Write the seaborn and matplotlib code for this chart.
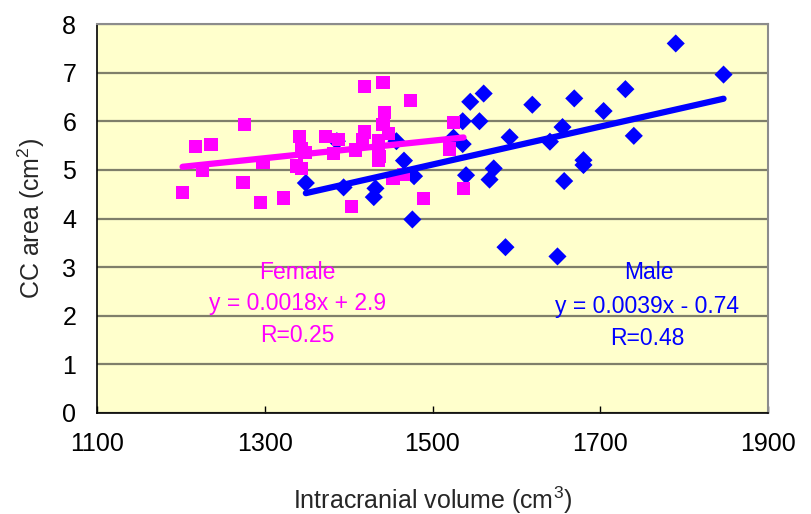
import numpy as np
import pandas as pd
import matplotlib
matplotlib.use("Agg")
import matplotlib.pyplot as plt
import seaborn as sns

# ---- data ----
female_icv = [1202, 1217, 1226, 1236, 1274, 1276, 1295, 1298, 1322, 1338,
              1344, 1341, 1344, 1348, 1372, 1382, 1388, 1403, 1408, 1417,
              1419, 1419, 1436, 1436, 1437, 1436, 1441, 1441, 1443, 1448,
              1453, 1465, 1474, 1489, 1520, 1525, 1537]
female_cc = [4.54, 5.48, 4.99, 5.53, 4.74, 5.94, 4.33, 5.15, 4.42, 5.08,
             5.03, 5.69, 5.43, 5.36, 5.69, 5.33, 5.63, 4.25, 5.41, 5.63,
             5.78, 6.71, 5.60, 5.43, 5.28, 5.19, 5.93, 6.79, 6.18, 5.75,
             4.82, 4.90, 6.42, 4.41, 5.43, 5.97, 4.62]

male_icv = [1349, 1386, 1394, 1430, 1432, 1457, 1466, 1476, 1478, 1525,
            1536, 1536, 1540, 1545, 1556, 1561, 1568, 1573, 1587, 1592,
            1619, 1640, 1649, 1655, 1657, 1669, 1680, 1680, 1704, 1730,
            1740, 1790, 1847]
male_cc = [4.73, 5.59, 4.64, 4.44, 4.62, 5.59, 5.19, 3.98, 4.87, 5.66,
           6.00, 5.53, 4.89, 6.40, 6.00, 6.57, 4.80, 5.03, 3.41, 5.67,
           6.34, 5.58, 3.22, 5.88, 4.77, 6.47, 5.20, 5.10, 6.21, 6.66,
           5.70, 7.60, 6.96]

# regression coefficients as printed on the chart
female_fit = (0.0018, 2.9)
male_fit = (0.0039, -0.74)

x_ticks = [1100, 1300, 1500, 1700, 1900]
y_ticks = [0, 1, 2, 3, 4, 5, 6, 7, 8]

MAGENTA = "#FF00FF"
BLUE = "#0000FF"

sns.set_theme(style="white")
plt.rcParams["font.family"] = ["Liberation Sans", "DejaVu Sans"]
plt.rcParams["mathtext.fontset"] = "custom"
plt.rcParams["mathtext.rm"] = "Liberation Sans"

fig = plt.figure(figsize=(8.11, 5.14), dpi=100)
ax = fig.add_axes([97 / 811, 1 - 413 / 514, (768 - 97) / 811, (413 - 24) / 514])
ax.set_facecolor("#FFFFCC")

fem = pd.DataFrame({"icv": female_icv, "cc": female_cc})
mal = pd.DataFrame({"icv": male_icv, "cc": male_cc})

sns.scatterplot(data=mal, x="icv", y="cc", marker="D", s=85, color=BLUE,
                edgecolor="none", linewidth=0, ax=ax, zorder=3)
sns.scatterplot(data=fem, x="icv", y="cc", marker="s", s=90, color=MAGENTA,
                edgecolor="none", linewidth=0, ax=ax, zorder=3)

fx = np.array([min(female_icv), max(female_icv)])
mx = np.array([min(male_icv), max(male_icv)])
sns.lineplot(x=mx, y=male_fit[0] * mx + male_fit[1], color=BLUE, lw=4.5,
             ax=ax, zorder=4, solid_capstyle="round")
sns.lineplot(x=fx, y=female_fit[0] * fx + female_fit[1], color=MAGENTA, lw=4.5,
             ax=ax, zorder=4, solid_capstyle="round")

ax.set_xlim(x_ticks[0], x_ticks[-1])
ax.set_ylim(y_ticks[0], y_ticks[-1])
ax.set_xticks(x_ticks)
ax.set_yticks(y_ticks)
ax.yaxis.grid(True, color="#7F7F6A", lw=1.6, zorder=0)
ax.xaxis.grid(False)
ax.set_axisbelow(True)

for side in ["top", "right"]:
    ax.spines[side].set_color("#8C8C8C")
    ax.spines[side].set_linewidth(1.5)
for side in ["left", "bottom"]:
    ax.spines[side].set_color("black")
    ax.spines[side].set_linewidth(1.2)

ax.tick_params(axis="both", direction="in", length=5, width=1, colors="black",
               labelsize=18)
ax.tick_params(axis="y", left=False, pad=15)
ax.tick_params(axis="x", bottom=True, pad=14)

ax.set_xlabel("Intracranial volume (cm$^{3}$)", fontsize=18, labelpad=20)
ax.set_ylabel("CC area (cm$^{2}$)", fontsize=18, labelpad=11)

fs = 16.5
ax.text(1339, 2.88, "Female", color=MAGENTA, fontsize=fs, ha="center", va="center")
ax.text(1339, 2.26, "y = 0.0018x + 2.9", color=MAGENTA, fontsize=fs, ha="center", va="center")
ax.text(1339, 1.60, "R=0.25", color=MAGENTA, fontsize=fs, ha="center", va="center")
ax.text(1758, 2.88, "Male", color=BLUE, fontsize=fs, ha="center", va="center")
ax.text(1756, 2.18, "y = 0.0039x - 0.74", color=BLUE, fontsize=fs, ha="center", va="center")
ax.text(1756, 1.54, "R=0.48", color=BLUE, fontsize=fs, ha="center", va="center")

fig.savefig("out.png", dpi=100, facecolor="white")
